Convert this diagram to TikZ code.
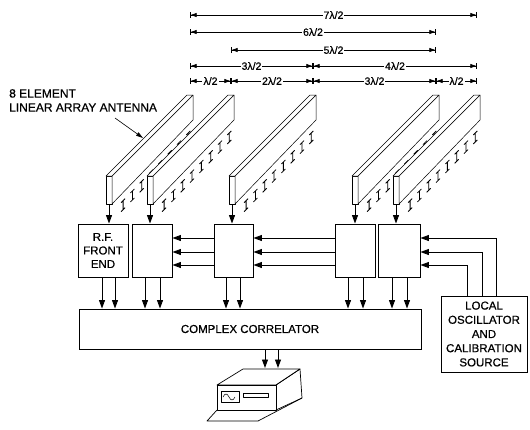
\documentclass[tikz,border=0pt]{standalone}
\usepackage{fontspec}
\setmainfont{Liberation Sans}[FakeBold=0.3]
\newfontfamily\heavy{Liberation Sans}[FakeBold=0.6]
\usetikzlibrary{arrows.meta,calc}
\newcommand\antennaAt[2]{%
 \begin{scope}[shift={(#1,0)}]
  \filldraw[ant, fill=white] (0,176) rectangle (6,204);
  \filldraw[ant, fill=white] (6,176) -- (87,95) -- (87,120) -- (6,204) -- cycle;
  \filldraw[ant, fill=white] (0,176) -- (81,95) -- (87,95) -- (6,176) -- cycle;
  \foreach \t in {0.10,0.215,0.33,0.445,0.56,0.675,0.79,0.905} {
    \path ($(6,204)!\t!(87,120)$) coordinate (e);
    \draw[line width=0.8pt] ([shift={(3,5)}]e) -- ([shift={(3,14)}]e)
       ([shift={(1,7)}]e) -- ([shift={(5,3)}]e)
       ([shift={(1,16)}]e) -- ([shift={(5,12)}]e);
  }
  \coordinate (#2) at (3,204);
 \end{scope}}
\begin{document}
\begin{tikzpicture}[x=1pt,y=-1pt,
 box/.style={draw, line width=0.9pt, inner sep=0pt, align=center, font=\heavy\fontsize{11.5}{13.5}\selectfont},
 arr/.style={line width=0.9pt, -{Triangle[length=8.5pt,width=6pt]}},
 dim/.style={line width=0.7pt, {Bar[width=6pt]Triangle[length=6pt,width=4pt]}-{Triangle[length=6pt,width=4pt]Bar[width=6pt]}},
 dimlab/.style={fill=white, inner sep=1pt, font=\heavy\fontsize{10.5}{12}\selectfont},
 ant/.style={line width=0.5pt, line join=round}]
\useasboundingbox (0,0) rectangle (530,429);
% dimension ticks and rows
\coordinate (t0) at (190,0); \coordinate (t1) at (231,0); \coordinate (t2) at (313,0);
\coordinate (t3) at (436,0); \coordinate (t4) at (477,0);
\coordinate (r1) at (0,15); \coordinate (r2) at (0,32); \coordinate (r3) at (0,50);
\coordinate (r4) at (0,66); \coordinate (r5) at (0,81);
\draw[dim] (t0 |- r1) -- node[dimlab]{7λ/2} (t4 |- r1);
\draw[dim] (t0 |- r2) -- node[dimlab]{6λ/2} (t3 |- r2);
\draw[dim] (t1 |- r3) -- node[dimlab]{5λ/2} (t3 |- r3);
\draw[dim] (t0 |- r4) -- node[dimlab]{3λ/2} (t2 |- r4);
\draw[dim] (t2 |- r4) -- node[dimlab]{4λ/2} (t4 |- r4);
\draw[dim] (t0 |- r5) -- node[dimlab]{λ/2} (t1 |- r5);
\draw[dim] (t1 |- r5) -- node[dimlab]{2λ/2} (t2 |- r5);
\draw[dim] (t2 |- r5) -- node[dimlab]{3λ/2} (t3 |- r5);
\draw[dim] (t3 |- r5) -- node[dimlab]{λ/2} (t4 |- r5);
% antennas
\antennaAt{106}{a1}
\antennaAt{147}{a2}
\antennaAt{229}{a3}
\antennaAt{352}{a4}
\antennaAt{393}{a5}
% label
\node[anchor=north west, align=left, inner sep=0pt, font=\heavy\fontsize{12}{14}\selectfont] (lbl) at (9,89) {8 ELEMENT\\LINEAR ARRAY ANTENNA};
\coordinate (lead) at (115,118);
\coordinate (leadtip) at (143,138);
\draw[line width=0.6pt, -{Triangle[length=7pt,width=4pt]}] (lead) -- (leadtip);
% boxes
\node[box, minimum width=50pt, minimum height=53pt] (b1) at (103,250.5) {R.F.\\FRONT\\END};
\node[box, minimum width=40pt, minimum height=53pt] (b2) at (152,250.5) {};
\node[box, minimum width=39pt, minimum height=53pt] (b3) at (233.5,250.5) {};
\node[box, minimum width=40pt, minimum height=53pt] (b4) at (355,250.5) {};
\node[box, minimum width=42pt, minimum height=53pt] (b5) at (399,250.5) {};
\node[box, minimum width=342pt, minimum height=40pt] (corr) at (250,329) {COMPLEX CORRELATOR};
\node[box, minimum width=86pt, minimum height=76pt, font=\heavy\fontsize{11.5}{14.2}\selectfont] (lo) at (484,334) {LOCAL\\OSCILLATOR\\AND\\CALIBRATION\\SOURCE};
% antenna feeds
\foreach \a/\b in {a1/b1,a2/b2,a3/b3,a4/b4,a5/b5} \draw[arr] (\a) -- (\a |- \b.north);
% horizontal links
\coordinate (h1) at (0,238); \coordinate (h2) at (0,252); \coordinate (h3) at (0,265);
\foreach \h in {h1,h2,h3} {
  \draw[arr] (b3.west |- \h) -- (b2.east |- \h);
  \draw[arr] (b4.west |- \h) -- (b3.east |- \h);
}
\coordinate (l1) at (496,0); \coordinate (l2) at (482,0); \coordinate (l3) at (467,0);
\draw[arr] (lo.north -| l1) |- (b5.east |- h1);
\draw[arr] (lo.north -| l2) |- (b5.east |- h2);
\draw[arr] (lo.north -| l3) |- (b5.east |- h3);
% outputs to correlator
\foreach \b/\x [count=\i] in {b1/102,b1/115,b2/145,b2/160,b3/226,b3/240,b4/348,b4/363,b5/392,b5/407} {
  \coordinate (p\i) at (\x,0);
  \draw[arr] (\b.south -| p\i) -- (corr.north -| p\i);
}
% display device
\draw[ant, line width=0.7pt] (243,369) -- (300,369) -- (276,385) -- (217,385) -- cycle;
\draw[ant, line width=0.7pt] (217,385) rectangle (276,410);
\draw[ant, line width=0.7pt] (276,385) -- (300,369) -- (302,398) -- (276,410);
\draw[ant, line width=0.7pt] (217,410) -- (207,421) -- (258,421) -- (302,398);
\draw[ant] (221,391) rectangle (239,402);
\draw[ant] (223,397) .. controls (225,393) and (227,393) .. (229,397) .. controls (231,401) and (233,401) .. (235,397);
\draw[ant] (243,393) rectangle (268,397);
\coordinate (d1) at (265,368); \coordinate (d2) at (278,368);
\draw[arr] (corr.south -| d1) -- (d1);
\draw[arr] (corr.south -| d2) -- (d2);
\end{tikzpicture}
\end{document}
